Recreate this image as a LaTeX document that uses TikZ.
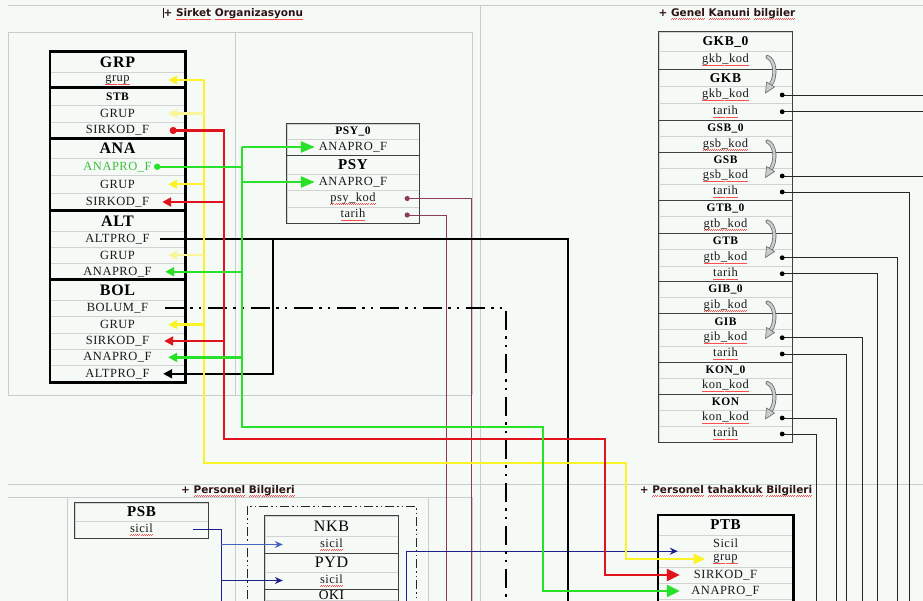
\documentclass[tikz,border=0pt]{standalone}
\usepackage{fontspec}
\setmainfont{Liberation Serif}
\newfontfamily\rowf[LetterSpace=4]{Liberation Serif}
\newfontfamily\ttlf{DejaVu Sans}
\usetikzlibrary{arrows.meta}
\definecolor{bgc}{RGB}{246,250,247}
\definecolor{gridc}{RGB}{200,205,203}
\definecolor{yelc}{RGB}{250,243,40}
\definecolor{yelpc}{RGB}{250,245,150}
\definecolor{redc}{RGB}{225,20,30}
\definecolor{grnc}{RGB}{40,225,40}
\definecolor{grntc}{RGB}{60,190,60}
\definecolor{purpc}{RGB}{140,60,90}
\definecolor{navyc}{RGB}{30,30,140}
\definecolor{steelc}{RGB}{70,100,190}
\definecolor{ttlc}{RGB}{45,20,20}
\newcommand\sq[1]{\setbox0\hbox{#1}\rlap{\color{red!70}\raisebox{-3.2pt}{\xleaders\hbox to 2pt{\rule{1pt}{0.5pt}\rule[0.6pt]{1pt}{0.5pt}}\hskip\wd0}}\box0\relax}
\begin{document}
\begin{tikzpicture}[x=1pt,y=-1pt,
 gridl/.style={draw=gridc, line width=0.6pt},
 cell/.style={draw=gray!35, line width=0.4pt, inner sep=0pt, font=\rowf\fontsize{12.5}{12.5}\selectfont, text=black!90},
 cA/.style={cell, minimum width=135pt},
 cP/.style={cell, minimum width=132pt},
 cG/.style={cell, minimum width=133pt},
 cT/.style={cell, minimum width=135pt},
 cN/.style={cell, minimum width=133pt},
 hA/.style={font=\rowf\bfseries\fontsize{16}{16}\selectfont, text=black},
 hS/.style={font=\rowf\bfseries\fontsize{11.5}{12}\selectfont, text=black},
 hM/.style={font=\rowf\bfseries\fontsize{15}{15}\selectfont, text=black},
 hG/.style={font=\rowf\bfseries\fontsize{13.5}{14}\selectfont, text=black},
 hR/.style={font=\rowf\fontsize{16}{16}\selectfont, text=black},
 ttl/.style={font=\ttlf\bfseries\fontsize{10.5}{11}\selectfont, text=ttlc, inner sep=0pt},
 thk/.style={draw=black, line width=2.6pt},
 med/.style={draw=black!75, line width=1.1pt},
 yl/.style={draw=yelc, line width=2.4pt},
 ylp/.style={draw=yelpc, line width=2.4pt},
 rl/.style={draw=redc, line width=2.4pt},
 gl/.style={draw=grnc, line width=2.4pt},
 bl/.style={draw=black, line width=2pt},
 ddl/.style={draw=black, line width=2.4pt, dash pattern=on 19pt off 6pt on 2.5pt off 6pt on 2.5pt off 7pt},
 ddbox/.style={draw=black!85, line width=1pt, dash pattern=on 9pt off 3pt on 1.5pt off 3pt on 1.5pt off 3pt},
 pl/.style={draw=purpc, line width=0.9pt},
 rk/.style={draw=black!85, line width=0.9pt},
 nl/.style={draw=navyc, line width=1pt},
 sl/.style={draw=steelc, line width=1pt},
 arS/.style={-{Triangle[length=9pt,width=9pt]}},
 arM/.style={-{Triangle[length=14pt,width=11pt]}},
 arB/.style={-{Triangle[length=13pt,width=12pt]}},
 arY/.style={-{Triangle[length=12pt,width=10pt]}},
 arN/.style={-{Stealth[length=8pt,width=7pt]}},
 curl/.pic={
  \draw[line width=4pt, black!60, line cap=round] (0,-3) .. controls (8,0) and (9,17) .. (3,25);
  \draw[line width=2.5pt, gray!40, line cap=round] (0,-3) .. controls (8,0) and (9,17) .. (3,25);
  \filldraw[fill=gray!40, draw=black!60, line width=0.6pt, line join=round] (-1,22) -- (7,27) -- (-2,33) -- cycle;
 }]
\useasboundingbox (0,0) rectangle (923,601);
\fill[bgc] (0,0) rectangle (923,601);
\begin{scope}
\clip (0,0) rectangle (923,601);
% grid
\draw[gridl] (8,5) -- (923,5);
\draw[gridl] (8,32) -- (472,32);
\draw[gridl] (8,32) -- (8,395) -- (472,395);
\draw[gridl] (235,32) -- (235,395);
\draw[gridl] (472,32) -- (472,395);
\draw[gridl] (480,5) -- (480,601);
\draw[gridl] (8,484) -- (923,484);
\draw[gridl] (8,497) -- (472,497);
\draw[gridl] (67,497) -- (67,601);
\draw[gridl] (235,497) -- (235,601);
\draw[gridl] (428,497) -- (428,601);
\draw[gridl] (472,497) -- (472,601);
% titles
\node[ttl] (t1) at (233,14) {\rule[-1.5pt]{1pt}{10pt}\kern-0.3pt+ \sq{Sirket} \sq{Organizasyonu}};
\node[ttl] (t2) at (727,14) {+ \sq{Genel} \sq{Kanuni} \sq{bilgiler}};
\node[ttl] (t3) at (238,491) {+ \sq{Personel} \sq{Bilgileri}};
\node[ttl] (t4) at (726,491) {+ \sq{Personel} \sq{tahakkuk} \sq{Bilgileri}};
% left table
\node[cA,hA,minimum height=20pt] (grp-h) at (117.5,62) {GRP};
\node[cA,minimum height=16pt] (grp-grup) at (117.5,80) {\sq{grup}};
\node[cA,hS,minimum height=17pt] (stb-h) at (117.5,96.5) {STB};
\node[cA,minimum height=17pt] (stb-grup) at (117.5,113.5) {GRUP};
\node[cA,minimum height=17pt] (stb-sirkod) at (117.5,130.5) {SIRKOD\_F};
\node[cA,hA,minimum height=19pt] (ana-h) at (117.5,148.5) {ANA};
\node[cA,minimum height=17.5pt,text=grntc] (ana-anapro) at (117.5,166.75) {ANAPRO\_F};
\node[cA,minimum height=17.5pt] (ana-grup) at (117.5,184.25) {GRUP};
\node[cA,minimum height=18pt] (ana-sirkod) at (117.5,202) {SIRKOD\_F};
\node[cA,hA,minimum height=20pt] (alt-h) at (117.5,221) {ALT};
\node[cA,minimum height=16pt] (alt-altpro) at (117.5,239) {ALTPRO\_F};
\node[cA,minimum height=16.5pt] (alt-grup) at (117.5,255.25) {GRUP};
\node[cA,minimum height=16.5pt] (alt-anapro) at (117.5,271.75) {ANAPRO\_F};
\node[cA,hA,minimum height=20pt] (bol-h) at (117.5,290) {BOL};
\node[cA,minimum height=16.4pt] (bol-bolum) at (117.5,308.2) {BOLUM\_F};
\node[cA,minimum height=16.4pt] (bol-grup) at (117.5,324.6) {GRUP};
\node[cA,minimum height=16.4pt] (bol-sirkod) at (117.5,341) {SIRKOD\_F};
\node[cA,minimum height=16.4pt] (bol-anapro) at (117.5,357.4) {ANAPRO\_F};
\node[cA,minimum height=16.4pt] (bol-altpro) at (117.5,373.8) {ALTPRO\_F};
\draw[thk] (grp-h.north west) rectangle (grp-grup.south east);
\draw[thk] (stb-h.north west) rectangle (stb-sirkod.south east);
\draw[thk] (ana-h.north west) rectangle (ana-sirkod.south east);
\draw[thk] (alt-h.north west) rectangle (alt-anapro.south east);
\draw[thk] (bol-h.north west) rectangle (bol-altpro.south east);
% PSY table
\node[cP,hS,minimum height=15pt] (psy0-h) at (353,131.5) {PSY\_0};
\node[cP,minimum height=16pt] (psy0-anapro) at (353,147) {ANAPRO\_F};
\node[cP,hM,minimum height=19pt] (psy-h) at (353,164.5) {PSY};
\node[cP,minimum height=16pt] (psy-anapro) at (353,182) {ANAPRO\_F};
\node[cP,minimum height=17pt] (psy-kod) at (353,198.5) {\sq{psy\_kod}};
\node[cP,minimum height=16pt] (psy-tarih) at (353,215) {\sq{tarih}};
\draw[med] (psy0-h.north west) rectangle (psy-tarih.south east);
\draw[med] (psy0-anapro.south west) -- (psy0-anapro.south east);
% right table
\node[cG,hG,minimum height=19pt] (gkb0-h) at (725.5,41.5) {GKB\_0};
\node[cG,minimum height=18pt] (gkb0-kod) at (725.5,60) {\sq{gkb\_kod}};
\node[cG,hG,minimum height=17.5pt] (gkb-h) at (725.5,77.75) {GKB};
\node[cG,minimum height=17pt] (gkb-kod) at (725.5,95) {\sq{gkb\_kod}};
\node[cG,minimum height=16.5pt] (gkb-tarih) at (725.5,111.75) {\sq{tarih}};
\node[cG,hS,minimum height=16.5pt] (gsb0-h) at (725.5,128.25) {GSB\_0};
\node[cG,minimum height=16pt] (gsb0-kod) at (725.5,144.5) {\sq{gsb\_kod}};
\node[cG,hS,minimum height=15.5pt] (gsb-h) at (725.5,160.25) {GSB};
\node[cG,minimum height=16pt] (gsb-kod) at (725.5,176) {\sq{gsb\_kod}};
\node[cG,minimum height=16pt] (gsb-tarih) at (725.5,192) {\sq{tarih}};
\node[cG,hS,minimum height=16pt] (gtb0-h) at (725.5,208) {GTB\_0};
\node[cG,minimum height=17pt] (gtb0-kod) at (725.5,224.5) {\sq{gtb\_kod}};
\node[cG,hS,minimum height=16.5pt] (gtb-h) at (725.5,241.25) {GTB};
\node[cG,minimum height=16.5pt] (gtb-kod) at (725.5,257.75) {\sq{gtb\_kod}};
\node[cG,minimum height=15.5pt] (gtb-tarih) at (725.5,273.75) {\sq{tarih}};
\node[cG,hS,minimum height=16pt] (gib0-h) at (725.5,289.5) {GIB\_0};
\node[cG,minimum height=16pt] (gib0-kod) at (725.5,305.5) {\sq{gib\_kod}};
\node[cG,hS,minimum height=16pt] (gib-h) at (725.5,321.5) {GIB};
\node[cG,minimum height=16.5pt] (gib-kod) at (725.5,337.75) {\sq{gib\_kod}};
\node[cG,minimum height=16pt] (gib-tarih) at (725.5,354) {\sq{tarih}};
\node[cG,hS,minimum height=16pt] (kon0-h) at (725.5,370) {KON\_0};
\node[cG,minimum height=16pt] (kon0-kod) at (725.5,386) {\sq{kon\_kod}};
\node[cG,hS,minimum height=16pt] (kon-h) at (725.5,402) {KON};
\node[cG,minimum height=16pt] (kon-kod) at (725.5,418) {\sq{kon\_kod}};
\node[cG,minimum height=16pt] (kon-tarih) at (725.5,434) {\sq{tarih}};
\draw[med] (gkb0-h.north west) rectangle (kon-tarih.south east);
\foreach \n in {gkb0-kod,gkb-tarih,gsb0-kod,gsb-tarih,gtb0-kod,gtb-tarih,gib0-kod,gib-tarih,kon0-kod}
  \draw[med] (\n.south west) -- (\n.south east);
\foreach \n in {gkb0-kod,gsb0-kod,gtb0-kod,gib0-kod,kon0-kod}
  \pic at ([xshift=42pt]\n.center) {curl};
% PTB
\node[cT,hM,minimum height=20pt] (ptb-h) at (725.5,525) {PTB};
\node[cT,minimum height=16pt] (ptb-sicil) at (725.5,543) {Sicil};
\node[cT,minimum height=16pt] (ptb-grup) at (725.5,559) {\sq{grup}};
\node[cT,minimum height=16pt] (ptb-sirkod) at (725.5,575) {SIRKOD\_F};
\node[cT,minimum height=16pt] (ptb-anapro) at (725.5,591) {ANAPRO\_F};
\draw[thk] (ptb-h.north west) rectangle ([yshift=-25pt]ptb-anapro.south east);
% PSB
\node[cN,hM,minimum height=18pt] (psb-h) at (141.5,512) {PSB};
\node[cN,minimum height=17pt] (psb-sicil) at (141.5,529.5) {\sq{sicil}};
\draw[med] (psb-h.north west) rectangle (psb-sicil.south east);
% NKB / PYD / OKI
\draw[ddbox] (247,620) -- (247,506) -- (416,506) -- (416,620);
\node[cN,hR,minimum height=20pt] (nkb-h) at (331.5,526) {NKB};
\node[cN,minimum height=17pt] (nkb-sicil) at (331.5,544.5) {\sq{sicil}};
\node[cN,hR,minimum height=19pt] (pyd-h) at (331.5,562.5) {PYD};
\node[cN,minimum height=17pt] (pyd-sicil) at (331.5,580.5) {\sq{sicil}};
\node[cN,minimum height=11pt,font=\rowf\fontsize{13.5}{13.5}\selectfont,text=black] (oki-h) at (331.5,595) {OKI};
\draw[med] (nkb-h.north west) rectangle ([yshift=-30pt]oki-h.south east);
\draw[med] (nkb-sicil.south west) -- (nkb-sicil.south east);
\draw[med] (pyd-sicil.south west) -- (pyd-sicil.south east);
% bus coordinates
\coordinate (kend) at (0,612);
\coordinate (ybus) at (204,0);
\coordinate (yc1) at (204,463);
\coordinate (yc2) at (626,463);
\coordinate (rbus) at (224,0);
\coordinate (rc1) at (224,439);
\coordinate (rc2) at (605,439);
\coordinate (gbus) at (242,0);
\coordinate (gc1) at (242,427);
\coordinate (gc2) at (543,427);
\coordinate (kbus) at (273,0);
\coordinate (kc) at (568,0);
\coordinate (dc) at (506,0);
\coordinate (pv1) at (471,0);
\coordinate (pv2) at (446,0);
\coordinate (bbus) at (221,0);
\coordinate (nv) at (406,0);
\coordinate (redge) at (930,0);
\coordinate (v1) at (909,0);
\coordinate (v2) at (897,0);
\coordinate (v3) at (877,0);
\coordinate (v4) at (862,0);
\coordinate (v5) at (846,0);
\coordinate (v6) at (836,0);
\coordinate (v7) at (816,0);
% purple
\draw[pl] ([xshift=-12pt]psy-kod.east) -- (pv1 |- psy-kod) -- (pv1 |- kend);
\draw[pl] ([xshift=-12pt]psy-tarih.east) -- (pv2 |- psy-tarih) -- (pv2 |- kend);
\fill[purpc] ([xshift=-12pt]psy-kod.east) circle (2.6pt);
\fill[purpc] ([xshift=-12pt]psy-tarih.east) circle (2.6pt);
% navy to PTB
\draw[nl,arN] (nv |- kend) -- (nv |- ptb-sicil.south) -- ([xshift=20pt]ptb-sicil.south west);
% blue PSB
\draw[nl] ([xshift=-15pt]psb-sicil.east) -- (bbus |- psb-sicil) -- (bbus |- kend);
\draw[sl,arN] (bbus |- nkb-sicil) -- ([xshift=18pt]nkb-sicil.west);
\draw[nl,arN] (bbus |- pyd-sicil) -- ([xshift=18pt]pyd-sicil.west);
% dash-dot BOLUM
\draw[ddl] ([xshift=-20pt]bol-bolum.east) -- (dc |- bol-bolum) -- (dc |- kend);
% black ALTPRO
\draw[bl] ([xshift=-25pt]alt-altpro.east) -- (kc |- alt-altpro) -- (kc |- kend);
\draw[bl,arS] (kbus |- alt-altpro) -- (kbus |- bol-altpro) -- ([xshift=-22pt]bol-altpro.east);
% yellow
\draw[yl,arY] (ybus |- grp-grup) -- (yc1) -- (yc2) -- (yc2 |- ptb-grup) -- ([xshift=-20pt]ptb-grup.center);
\foreach \n in {grp-grup,ana-grup,bol-grup}
  \draw[yl,arS] (ybus |- \n) -- ([xshift=-17pt]\n.east);
\foreach \n in {stb-grup,alt-grup}
  \draw[ylp,arS] (ybus |- \n) -- ([xshift=-17pt]\n.east);
% red
\draw[rl,arB] ([xshift=-12pt]stb-sirkod.east) -- (rbus |- stb-sirkod) -- (rc1) -- (rc2) -- (rc2 |- ptb-sirkod) -- ([xshift=22pt]ptb-sirkod.west);
\fill[redc] ([xshift=-12pt]stb-sirkod.east) circle (3.6pt);
\draw[rl,arS] (rbus |- ana-sirkod) -- ([xshift=-23pt]ana-sirkod.east);
\draw[rl,arS] (rbus |- bol-sirkod) -- ([xshift=-21pt]bol-sirkod.east);
% green
\draw[gl] ([xshift=-28pt]ana-anapro.east) -- (gbus |- ana-anapro);
\fill[grnc] ([xshift=-28pt]ana-anapro.east) circle (3.2pt);
\draw[gl,arB] (gbus |- psy0-anapro) -- (gc1) -- (gc2) -- (gc2 |- ptb-anapro) -- ([xshift=22pt]ptb-anapro.west);
\draw[gl,arM] (gbus |- psy0-anapro) -- ([xshift=28pt]psy0-anapro.west);
\draw[gl,arM] (gbus |- psy-anapro) -- ([xshift=28pt]psy-anapro.west);
\draw[gl,arS] (gbus |- alt-anapro) -- ([xshift=-20pt]alt-anapro.east);
\draw[gl,arS] (gbus |- bol-anapro) -- ([xshift=-17pt]bol-anapro.east);
% right lines
\draw[rk] ([xshift=-10pt]gkb-kod.east) -- (redge |- gkb-kod);
\draw[rk] ([xshift=-10pt]gkb-tarih.east) -- (redge |- gkb-tarih);
\draw[rk] ([xshift=-10pt]gsb-kod.east) -- (redge |- gsb-kod);
\draw[rk] ([xshift=-10pt]gsb-tarih.east) -- (v1 |- gsb-tarih) -- (v1 |- kend);
\draw[rk] ([xshift=-10pt]gtb-kod.east) -- (v2 |- gtb-kod) -- (v2 |- kend);
\draw[rk] ([xshift=-10pt]gtb-tarih.east) -- (v3 |- gtb-tarih) -- (v3 |- kend);
\draw[rk] ([xshift=-10pt]gib-kod.east) -- (v4 |- gib-kod) -- (v4 |- kend);
\draw[rk] ([xshift=-10pt]gib-tarih.east) -- (v5 |- gib-tarih) -- (v5 |- kend);
\draw[rk] ([xshift=-10pt]kon-kod.east) -- (v6 |- kon-kod) -- (v6 |- kend);
\draw[rk] ([xshift=-10pt]kon-tarih.east) -- (v7 |- kon-tarih) -- (v7 |- kend);
\foreach \n in {gkb-kod,gkb-tarih,gsb-kod,gsb-tarih,gtb-kod,gtb-tarih,gib-kod,gib-tarih,kon-kod,kon-tarih}
  \fill[black] ([xshift=-10pt]\n.east) circle (2.4pt);
\end{scope}
\end{tikzpicture}
\end{document}
